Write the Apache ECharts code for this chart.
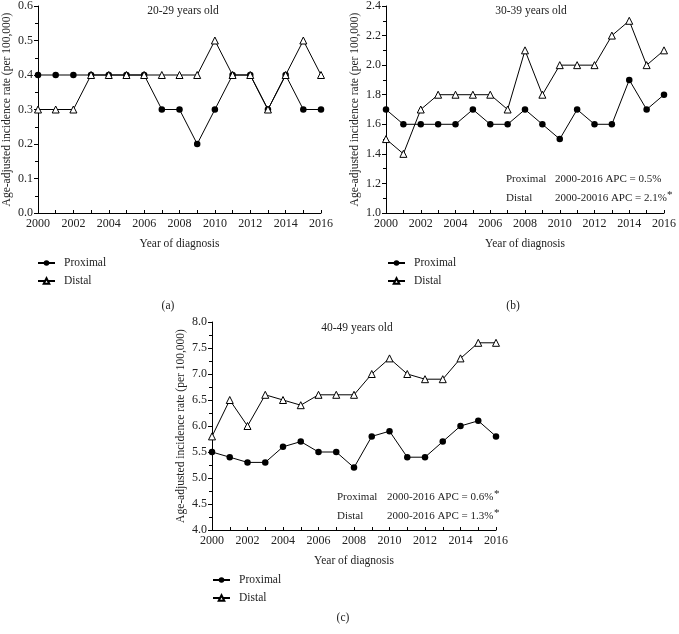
<!DOCTYPE html>
<html>
<head>
<meta charset="utf-8">
<script src="https://cdn.jsdelivr.net/npm/echarts@6/dist/echarts.min.js"></script>
<style>html,body{margin:0;padding:0;background:#fff;}#c{width:679px;height:634px;}</style>
</head>
<body>
<div id="c"></div>
<script>
const years = [2000,2001,2002,2003,2004,2005,2006,2007,2008,2009,2010,2011,2012,2013,2014,2015,2016];
const proximalA = [0.4,0.4,0.4,0.4,0.4,0.4,0.4,0.3,0.3,0.2,0.3,0.4,0.4,0.3,0.4,0.3,0.3];
const distalA   = [0.3,0.3,0.3,0.4,0.4,0.4,0.4,0.4,0.4,0.4,0.5,0.4,0.4,0.3,0.4,0.5,0.4];
const proximalB = [1.7,1.6,1.6,1.6,1.6,1.7,1.6,1.6,1.7,1.6,1.5,1.7,1.6,1.6,1.9,1.7,1.8];
const distalB   = [1.5,1.4,1.7,1.8,1.8,1.8,1.8,1.7,2.1,1.8,2.0,2.0,2.0,2.2,2.3,2.0,2.1];
const proximalC = [5.5,5.4,5.3,5.3,5.6,5.7,5.5,5.5,5.2,5.8,5.9,5.4,5.4,5.7,6.0,6.1,5.8];
const distalC   = [5.8,6.5,6.0,6.6,6.5,6.4,6.6,6.6,6.6,7.0,7.3,7.0,6.9,6.9,7.3,7.6,7.6];
const panelTitles = ['20-29 years old','30-39 years old','40-49 years old'];
const panelLetters = ['(a)','(b)','(c)'];
const yRanges = [[0,0.6,0.1],[1.0,2.4,0.2],[4.0,8.0,0.5]];

const FONT = '"Liberation Serif", "DejaVu Serif", serif';
const chart = echarts.init(document.getElementById('c'));

const grids = [
  {left:38, top:5, width:283, height:208},
  {left:386, top:5, width:283, height:208},
  {left:212, top:322, width:284, height:208}
];
const pairs = [[proximalA,distalA],[proximalB,distalB],[proximalC,distalC]];

const xAxes = grids.map((g,i)=>({
  type:'value', gridIndex:i, min:2000, max:2016, interval:1,
  name:'Year of diagnosis', nameLocation:'middle', nameGap:25,
  nameTextStyle:{fontFamily:FONT, fontSize:11.5, color:'#222'},
  axisLine:{lineStyle:{color:'#000', width:1}},
  axisTick:{inside:true, length:3, lineStyle:{color:'#000'}},
  axisLabel:{fontFamily:FONT, fontSize:12, color:'#222', margin:5,
    formatter:v=> (v%2===0 ? String(v) : '')},
  splitLine:{show:false}
}));
const yAxes = grids.map((g,i)=>({
  type:'value', gridIndex:i, min:yRanges[i][0], max:yRanges[i][1], interval:yRanges[i][2],
  name:'Age-adjusted incidence rate (per 100,000)', nameLocation:'middle', nameGap:25,
  nameTextStyle:{fontFamily:FONT, fontSize:11.5, color:'#222'},
  axisLine:{show:true, lineStyle:{color:'#000', width:1}},
  axisTick:{show:true, length:4, lineStyle:{color:'#000'}},
  minorTick:{show:true, splitNumber:2, length:3, lineStyle:{color:'#000'}},
  axisLabel:{fontFamily:FONT, fontSize:12, color:'#222', margin:5, formatter:v=>v.toFixed(1)},
  splitLine:{show:false}
}));

const series = [];
pairs.forEach((p,i)=>{
  series.push({
    name:'Proximal', type:'line', xAxisIndex:i, yAxisIndex:i,
    data: years.map((y,k)=>[y,p[0][k]]),
    symbol:'circle', symbolSize:6.5, showAllSymbol:true,
    lineStyle:{color:'#000', width:1}, itemStyle:{color:'#000'},
    z:2, animation:false
  });
  series.push({
    name:'Distal', type:'line', xAxisIndex:i, yAxisIndex:i,
    data: years.map((y,k)=>[y,p[1][k]]),
    symbol:'triangle', symbolSize:7, showAllSymbol:true,
    lineStyle:{color:'#000', width:1}, itemStyle:{color:'#fff', borderColor:'#000', borderWidth:1},
    z:3, animation:false
  });
});

const titles = [
  {text:panelTitles[0], left:178, top:0},
  {text:panelTitles[1], left:526, top:0},
  {text:panelTitles[2], left:352, top:317},
  {text:panelLetters[0], left:163, top:295},
  {text:panelLetters[1], left:508, top:295},
  {text:panelLetters[2], left:338, top:607}
].map(t=>({text:t.text, left:t.left, top:t.top, textAlign:'center',
  textStyle:{fontFamily:FONT, fontSize:11.5, fontWeight:'normal', color:'#222'}}));

const legendPos = [[37,257],[387,257],[212,574]];
const legends = legendPos.map(p=>({
  data:['Proximal','Distal'], orient:'vertical', left:p[0], top:p[1], padding:0,
  itemWidth:17, itemHeight:7, itemGap:6, selectedMode:false,
  textStyle:{fontFamily:FONT, fontSize:11.5, color:'#222', padding:[0,0,0,4]}
}));

function ann(x,y,text){
  return {type:'text', left:x, top:y, style:{text:text, fontFamily:FONT, fontSize:11, fill:'#222'}};
}
const graphics = [
  ann(506,174,'Proximal'), ann(555,174,'2000-2016 APC = 0.5%'),
  ann(506,193,'Distal'), ann(555,193,'2000-20016 APC = 2.1%'), ann(667,190,'*'),
  ann(337,492,'Proximal'), ann(387,492,'2000-2016 APC = 0.6%'), ann(494,489,'*'),
  ann(337,511,'Distal'), ann(387,511,'2000-2016 APC = 1.3%'), ann(494,508,'*')
];

chart.setOption({
  animation:false,
  backgroundColor:'#fff',
  title:titles,
  legend:legends,
  grid:grids,
  xAxis:xAxes,
  yAxis:yAxes,
  series:series,
  graphic:graphics
});
</script>
</body>
</html>
